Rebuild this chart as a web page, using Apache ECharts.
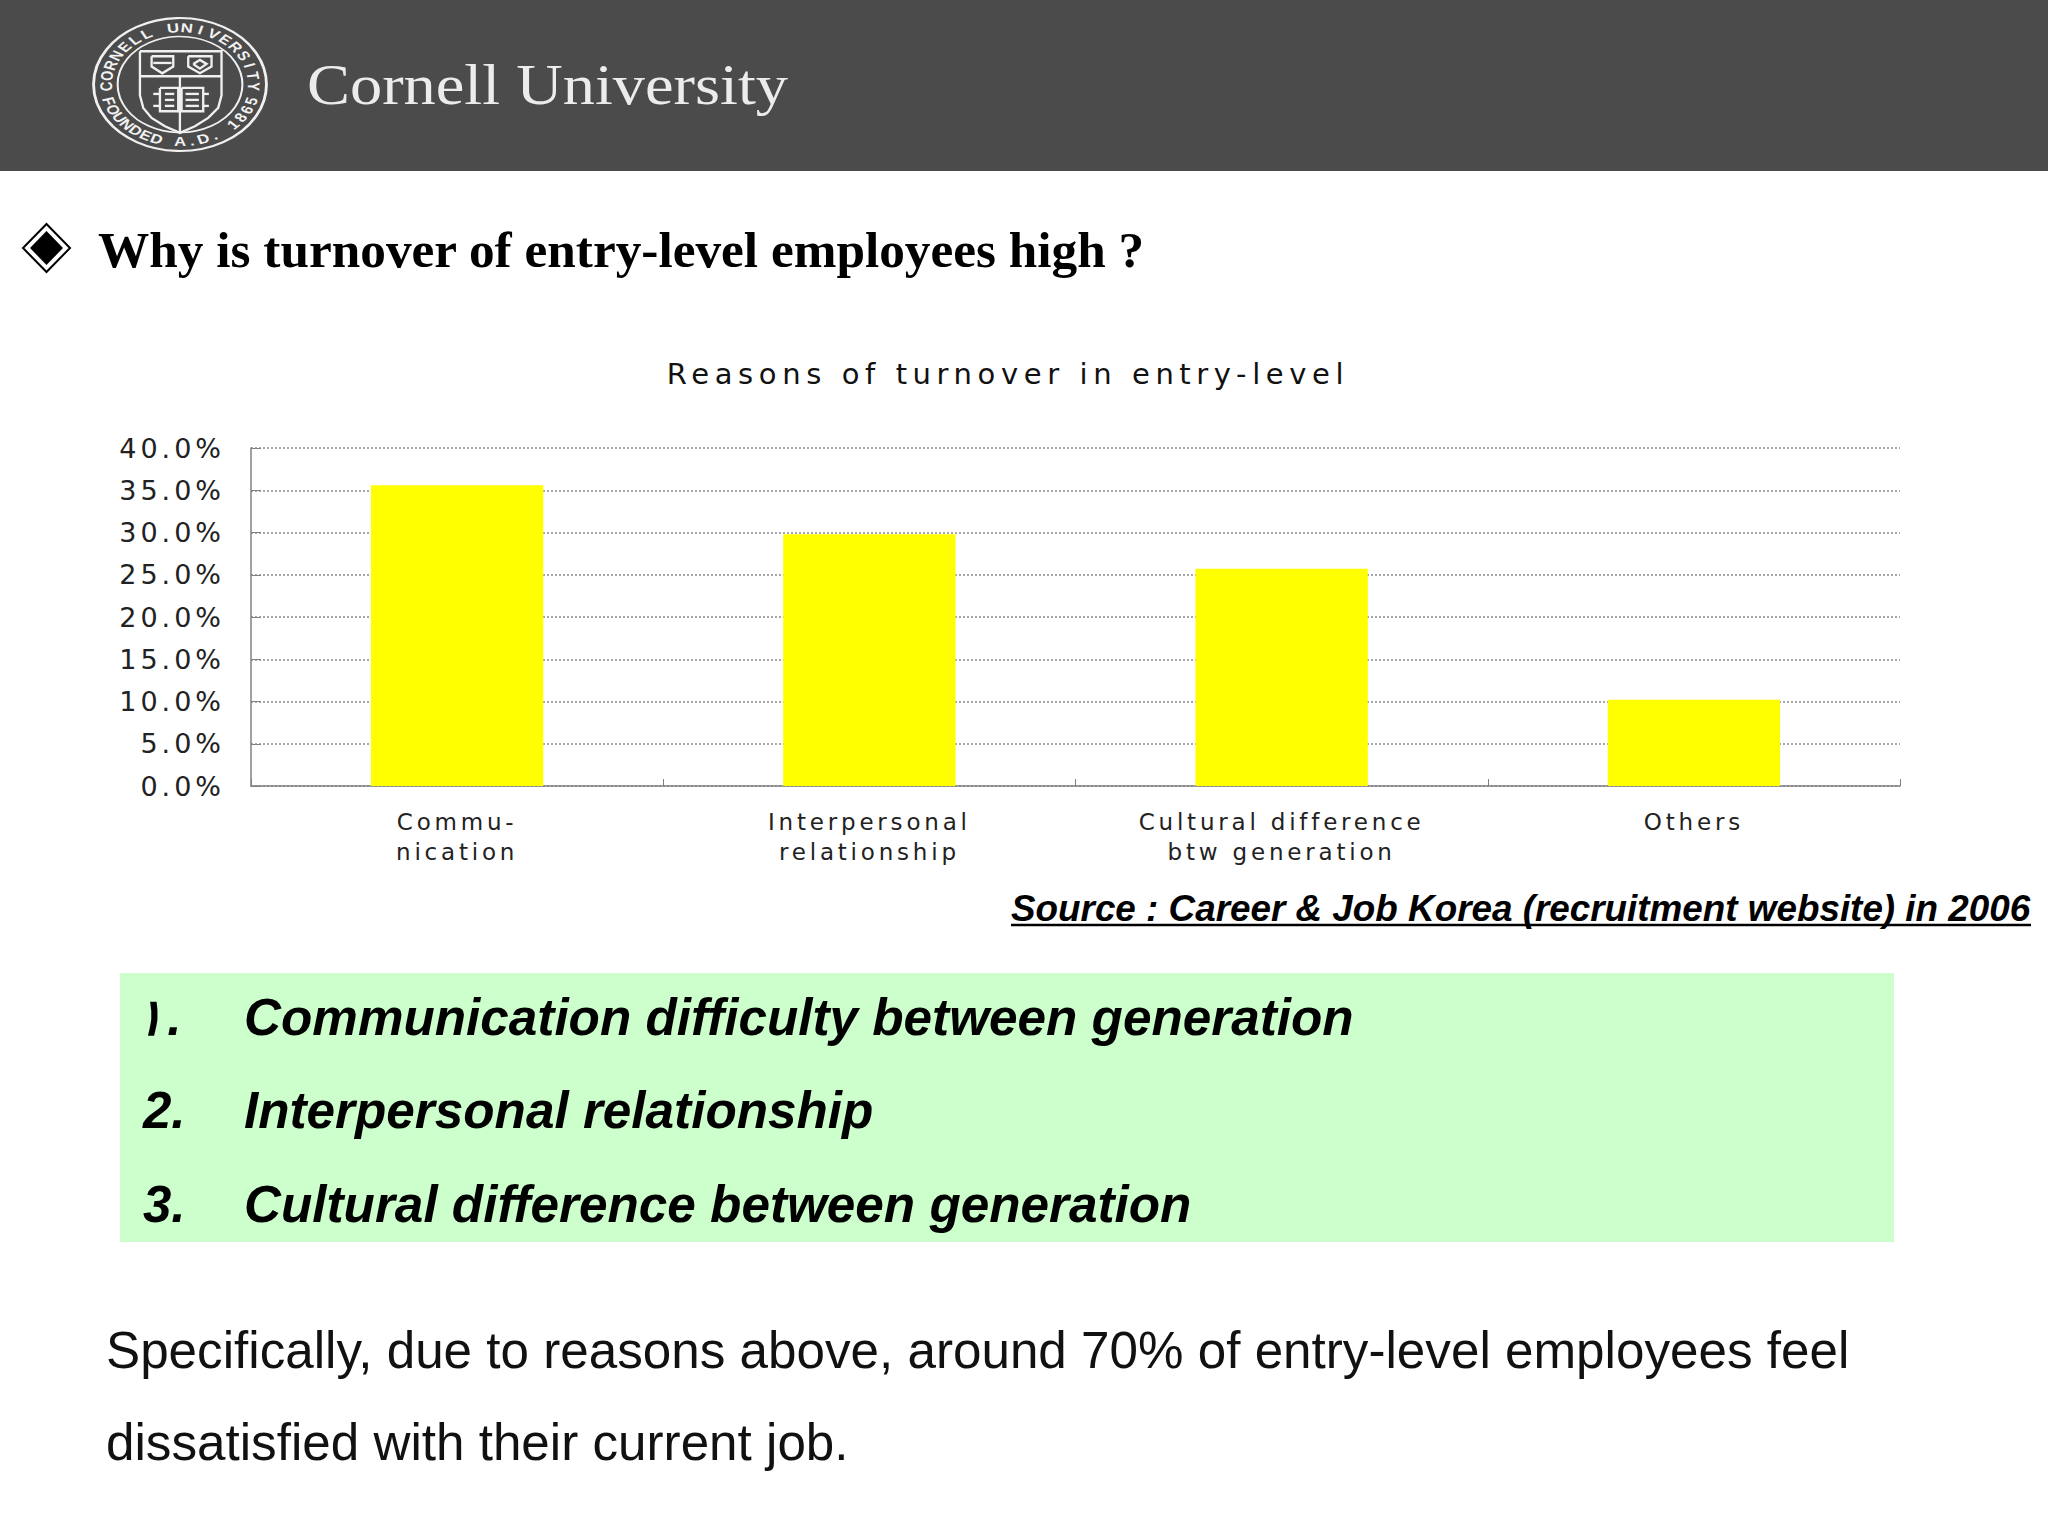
<!DOCTYPE html>
<html>
<head>
<meta charset="utf-8">
<style>html,body{margin:0;padding:0;background:#fff}#c{width:2048px;height:1536px}</style>
<script src="https://cdn.jsdelivr.net/npm/echarts@6/dist/echarts.min.js"></script>
</head>
<body>
<div id="c"></div>
<script>
const chartTitle = 'Reasons of turnover in entry-level';
const categories = ['Commu-\nnication', 'Interpersonal\nrelationship', 'Cultural difference\nbtw generation', 'Others'];
const turnoverShare = [35.6, 29.8, 25.7, 10.2];
const yTickInterval = 5;
const yMax = 40;
const heading = 'Why is turnover of entry-level employees high ?';
const sourceNote = 'Source : Career & Job Korea (recruitment website) in 2006';
const listNumbers = ['\u0661\u200a.', '2.', '3.'];
const listItems = ['Communication difficulty between generation', 'Interpersonal relationship', 'Cultural difference between generation'];
const closingLines = ['Specifically, due to reasons above, around 70% of entry-level employees feel', 'dissatisfied with their current job.'];
const org = 'Cornell University';
const sealTop = 'CORNELL UNIVERSITY';
const sealBottom = 'FOUNDED A.D. 1865';

const WIDE = 'DejaVu Sans';
const spacing = {29: 5.6, 27: 4, 23: 3.8};

function txt(text, x, base, font, size, fill, extra, centralRatio) {
  return Object.assign({
    type: 'text', x: x, y: base - size * (centralRatio || 0.3465), silent: true,
    style: {text: text, font: font.replace('%', size + 'px'), fill: fill, textVerticalAlign: 'middle', textAlign: 'left'}
  }, extra || {});
}

const sealLetters = [];
const SEAL_R = 57;
sealTop.split('').forEach(function (ch, i) {
  const t = (-92 + i * 184 / (sealTop.length - 1)) * Math.PI / 180;
  sealLetters.push({type: 'text', x: SEAL_R * Math.sin(t), y: -SEAL_R * Math.cos(t), rotation: -t, silent: true,
    style: {text: ch, font: 'bold 13px Liberation Sans', fill: '#f2f2f2', textAlign: 'center', textVerticalAlign: 'middle'}});
});
sealBottom.split('').forEach(function (ch, i) {
  const t = (-73 + i * 146 / (sealBottom.length - 1)) * Math.PI / 180;
  sealLetters.push({type: 'text', x: SEAL_R * Math.sin(t), y: SEAL_R * Math.cos(t), rotation: t, silent: true,
    style: {text: ch, font: 'bold 13px Liberation Sans', fill: '#f2f2f2', textAlign: 'center', textVerticalAlign: 'middle'}});
});

const sealLine = {fill: 'none', stroke: '#f0f0f0', lineWidth: 7};
const sealStrokes = [
  [[165,130],[410,130],[410,262],[400,300],[370,330],[330,355],[285,375],[240,355],[200,330],[175,300],[165,262],[165,130]],
  [[165,205],[410,205]],
  [[285,205],[285,372]],
  [[200,145],[265,145],[265,176],[232,196],[200,176],[200,145]],
  [[310,145],[380,145],[380,176],[345,196],[310,176],[310,145]],
  [[325,168],[345,156],[365,168],[345,182],[325,168]],
  [[205,165],[260,165]],
  [[225,240],[280,240],[280,310],[225,310],[225,240]],
  [[290,240],[355,240],[355,310],[290,310],[290,240]],
  [[240,258],[268,258]], [[240,276],[268,276]], [[240,294],[268,294]],
  [[302,258],[342,258]], [[302,276],[342,276]], [[302,294],[342,294]],
  [[205,258],[225,258]], [[205,294],[225,294]], [[355,258],[372,258]], [[355,294],[372,294]]
];
const sealShapes = sealStrokes.map(function (p) { return {type: 'polyline', silent: true, shape: {points: p}, style: sealLine}; });

const graphicEls = [
  {type: 'rect', silent: true, z: -10, shape: {x: 0, y: 0, width: 2048, height: 171}, style: {fill: '#4b4b4b'}},
  {type: 'rect', silent: true, z: -10, shape: {x: 120, y: 973, width: 1774, height: 269}, style: {fill: '#ccffcc'}},
  {type: 'group', x: 180, y: 84.5, scaleX: 1.3, scaleY: 1, silent: true, children: [
    {type: 'circle', silent: true, shape: {cx: 0, cy: 0, r: 66.5}, style: {fill: 'none', stroke: '#f0f0f0', lineWidth: 2.2}},
    {type: 'circle', silent: true, shape: {cx: 0, cy: 0, r: 48}, style: {fill: 'none', stroke: '#f0f0f0', lineWidth: 1.6}}
  ].concat(sealLetters)},
  {type: 'group', x: 85, y: 8, scaleX: 1 / 3, scaleY: 1 / 3, silent: true, children: sealShapes},
  txt(org, 307, 104, '% Liberation Serif', 56, '#ececec', {scaleX: 1.15, originX: 0}, 0.3375),
  {type: 'polygon', silent: true, shape: {points: [[46.5, 224], [70, 248], [46.5, 272], [23, 248]]}, style: {fill: '#fff', stroke: '#000', lineWidth: 2}},
  {type: 'polygon', silent: true, shape: {points: [[46.5, 231], [63, 248], [46.5, 265], [30, 248]]}, style: {fill: '#000'}},
  txt(heading, 98, 267, 'bold % Liberation Serif', 51.3, '#000', null, 0.3375),
  txt(sourceNote, 1011, 921.5, 'italic bold % Liberation Sans', 36.85, '#000'),
  {type: 'line', silent: true, shape: {x1: 1011, y1: 925, x2: 2031, y2: 925}, style: {stroke: '#000', lineWidth: 2.5}}
];
listNumbers.forEach(function (n, i) {
  const bases = [1035, 1128, 1222];
  graphicEls.push(txt(n, [136, 143, 143][i], bases[i], 'italic bold % Liberation Sans', 51, '#000'));
  graphicEls.push(txt(listItems[i], 244, bases[i], 'italic bold % Liberation Sans', 51.25, '#000'));
});
closingLines.forEach(function (s, i) {
  graphicEls.push(txt(s, 106, [1368, 1460][i], '% Liberation Sans', 51.2, '#111'));
});

const chart = echarts.init(document.getElementById('c'), null, {renderer: 'svg', width: 2048, height: 1536});
chart.setOption({
  animation: false,
  backgroundColor: '#ffffff',
  title: {
    text: chartTitle, left: 1003, top: 354, textAlign: 'center',
    textStyle: {fontFamily: WIDE, fontSize: 29, fontWeight: 'normal', color: '#111'}
  },
  grid: {left: 251, right: 148, top: 448, height: 338, containLabel: false},
  xAxis: {
    type: 'category', data: categories,
    axisLine: {lineStyle: {color: '#808080', width: 1.5}},
    axisTick: {show: true, inside: true, length: 7, alignWithLabel: false, lineStyle: {color: '#808080'}},
    axisLabel: {fontFamily: WIDE, fontSize: 23, color: '#222', lineHeight: 30, margin: 21, interval: 0}
  },
  yAxis: {
    type: 'value', min: 0, max: yMax, interval: yTickInterval,
    axisLine: {show: true, lineStyle: {color: '#808080', width: 1.5}},
    axisTick: {show: true, inside: true, length: 10, lineStyle: {color: '#808080'}},
    axisLabel: {fontFamily: WIDE, fontSize: 27, color: '#222', margin: 26, padding: [12, 0, 0, 0],
      formatter: function (v) { return v.toFixed(1) + '%'; }},
    splitLine: {show: true, lineStyle: {type: [2, 2], color: '#8a8a8a', width: 1.5}}
  },
  series: [{
    type: 'bar', data: turnoverShare, barWidth: '41.8%', silent: true,
    itemStyle: {color: '#ffff00'}
  }],
  graphic: {elements: graphicEls}
});

function applySpacing() {
  document.querySelectorAll('#c svg text').forEach(function (el) {
    const cs = getComputedStyle(el);
    if (cs.fontFamily.indexOf('DejaVu') >= 0) {
      const s = spacing[Math.round(parseFloat(cs.fontSize))];
      if (s) el.style.letterSpacing = s + 'px';
    }
  });
}
chart.on('finished', applySpacing);
applySpacing();
</script>
</body>
</html>
